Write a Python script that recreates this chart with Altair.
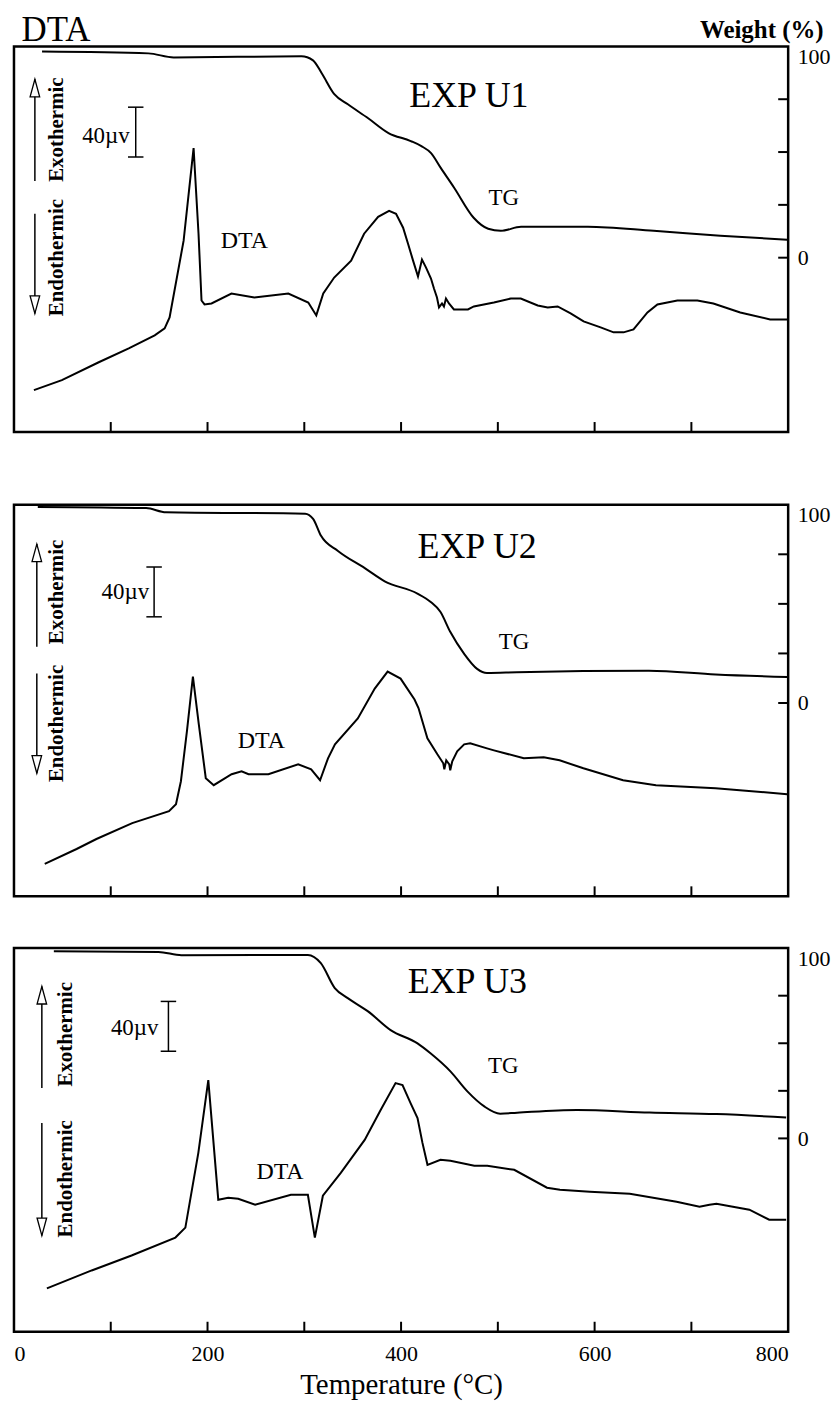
import altair as alt
import pandas as pd

FONT = "Liberation Serif"
W = 777

# ---------------- data ----------------
# Panel EXP U1
tg1_t = [29, 139, 165, 297, 309, 318, 331, 345, 366, 387, 410, 421, 431, 441, 455, 475, 490, 503, 524, 593, 661, 730, 799]
tg1_w = [97.6, 96.7, 94.8, 95.3, 93.4, 87.3, 77.4, 72.6, 66.0, 59.0, 55.2, 52.8, 49.5, 42.5, 33.0, 18.9, 13.7, 12.7, 14.6, 14.6, 12.7, 10.4, 8.5]
dta1_t = [20.6, 49.5, 87.6, 118.6, 145.4, 155.7, 160.8, 175.3, 185.6, 190.7, 193.8, 196.9, 204.1, 224.7, 248.4, 283.5,
          304.1, 312.4, 319.6, 330.9, 348.4, 361.8, 376.3, 387.6, 394.8, 402.1, 407.2, 412.4, 417.5, 421.6, 425.8, 430.9,
          434.0, 437.1, 439.2, 442.3, 444.3, 446.4, 449.5, 454.6, 469.1, 475.2, 495.9, 513.4, 523.7, 541.2, 551.5, 561.8,
          575.2, 588.6, 606.2, 619.6, 629.9, 640.2, 654.6, 664.9, 685.5, 706.2, 722.7, 750.5, 781.4, 799.0]
dta1_v = [33.6, 41.6, 56.0, 67.2, 77.6, 83.2, 92.0, 153.6, 228.0, 159.2, 105.6, 102.4, 103.2, 111.2, 108.0, 111.2,
          104.0, 93.6, 111.2, 124.0, 137.6, 159.2, 172.8, 177.6, 175.2, 164.0, 151.2, 137.6, 124.8, 138.4, 132.0, 123.2,
          115.2, 108.0, 100.0, 103.2, 100.8, 107.2, 103.2, 98.4, 98.4, 100.8, 104.0, 107.2, 107.2, 101.6, 100.0, 100.8,
          95.2, 88.8, 84.0, 80.0, 80.0, 82.4, 96.0, 102.4, 105.6, 105.6, 103.2, 96.0, 90.4, 90.4]

# Panel EXP U2
tg2_t = [24.6, 136.6, 157.1, 300.9, 309.1, 317.3, 334.8, 362.5, 383.1, 416.9, 430.3, 440.6, 450.8, 465.2, 478.6, 488.8, 519.6, 588.4, 656.2, 725.0, 799.0]
tg2_w = [98.9, 98.3, 96.2, 95.5, 92.9, 84.3, 76.7, 68.0, 61.4, 55.2, 51.1, 46.0, 35.9, 24.8, 17.2, 15.1, 15.5, 16.1, 16.3, 14.4, 13.1]
dta2_t = [31.8, 64.7, 85.2, 122.2, 160.2, 167.4, 172.5, 178.7, 184.9, 191.0, 198.2, 206.4, 224.9, 235.2, 242.4, 262.9,
          293.7, 307.1, 316.3, 324.5, 331.7, 355.3, 372.8, 386.1, 399.5, 413.9, 418.0, 427.2, 437.5, 443.6, 444.7, 446.7,
          449.8, 450.8, 452.9, 458.0, 465.2, 471.4, 488.8, 496.0, 526.8, 547.4, 563.8, 588.4, 629.4, 663.4, 725.0, 799.0]
dta2_v = [26.0, 38.0, 46.0, 58.8, 68.4, 74.0, 92.4, 132.4, 176.4, 138.0, 94.8, 89.2, 98.0, 100.4, 98.0, 98.0,
          106.0, 102.0, 93.2, 110.8, 122.0, 142.8, 166.8, 180.4, 174.8, 158.0, 151.2, 126.8, 114.0, 106.8, 102.0, 109.2,
          106.0, 101.2, 108.4, 116.4, 122.0, 122.8, 118.8, 117.2, 110.8, 111.6, 109.2, 102.8, 93.2, 89.2, 86.8, 82.0]

# Panel EXP U3
tg3_t = [41.2, 149.3, 173.0, 303.7, 317.1, 331.5, 344.9, 365.5, 389.2, 417.0, 430.4, 451.0, 468.5, 486.0, 502.4, 519.9, 581.7, 656.9, 725.9, 797.9]
tg3_w = [98.3, 98.0, 96.3, 96.4, 92.1, 79.0, 73.7, 66.9, 56.9, 49.9, 44.7, 35.2, 24.7, 16.8, 13.0, 13.5, 14.9, 13.6, 12.8, 11.0]
dta3_t = [34.0, 80.3, 121.5, 166.8, 177.1, 190.5, 200.8, 211.1, 221.4, 231.7, 249.2, 286.2, 303.7, 310.9, 319.2, 337.7,
          362.4, 378.9, 394.3, 401.5, 409.8, 417.0, 422.1, 427.3, 440.7, 451.0, 475.7, 489.1, 516.9, 550.8, 564.2, 595.1,
          636.3, 684.7, 708.4, 718.7, 725.9, 759.9, 780.4, 797.9]
dta3_v = [34.8, 49.2, 61.2, 75.6, 83.6, 143.6, 202.0, 106.0, 107.6, 106.8, 102.0, 110.0, 110.0, 75.6, 109.2, 127.6,
          154.0, 178.0, 199.6, 198.0, 183.6, 171.6, 151.6, 134.0, 138.0, 137.2, 133.2, 133.2, 130.0, 115.6, 114.0, 112.4,
          110.8, 104.4, 100.4, 102.0, 102.8, 98.0, 90.0, 90.0]

x_tick_values = [100, 200, 300, 400, 500, 600, 700]
x_label_values = [0, 200, 400, 600, 800]
w_tick_values = [0, 25, 50, 75]
w_label_values = [0, 100]

# annotation placement (data units: degC, microvolt)
ann1 = dict(exp="EXP  U1", exp_xy=(470.1, 269.6), tg_xy=(506.2, 188.0), dta_xy=(238.1, 153.6),
            bar=(125.8, 220.8, 260.8), lab40=(119.6, 237.6), arr_t=21.6, up=(201.6, 283.2), down=(175.2, 95.2),
            exo=(44.3, 242.8), endo=(44.3, 140.0))
ann2 = dict(exp="EXP U2", exp_xy=(478.6, 280.4), tg_xy=(516.6, 204.4), dta_xy=(255.7, 124.4),
            bar=(144.8, 224.4, 264.4), lab40=(139.7, 244.4), arr_t=23.6, up=(200.4, 282.8), down=(178.8, 98.8),
            exo=(44.2, 244.4), endo=(44.2, 138.8))
ann3 = dict(exp="EXP U3", exp_xy=(468.5, 280.4), tg_xy=(505.5, 213.2), dta_xy=(274.9, 128.4),
            bar=(159.6, 225.2, 265.2), lab40=(149.3, 243.6), arr_t=28.8, up=(195.6, 277.2), down=(167.6, 77.2),
            exo=(53.5, 238.8), endo=(53.5, 122.8))

UP_HEAD = "M0,0L0.6,2.2L-0.6,2.2Z"
DOWN_HEAD = "M0,0L0.6,-2.2L-0.6,-2.2Z"


def panel(tg_t, tg_w, dta_t, dta_v, H, wdom, ann, first=False, last=False):
    vdom = [0, round(H * 0.8, 1)]
    xs = alt.Scale(domain=[0, 800], nice=False, zero=False)
    ysw = alt.Scale(domain=wdom, nice=False, zero=False)
    ysv = alt.Scale(domain=vdom, nice=False, zero=False)
    if last:
        xaxis = alt.Axis(values=x_label_values, tickSize=0, domain=False, grid=False, labelFlush=True,
                         labelFont=FONT, labelFontSize=22, labelColor="black", labelPadding=12,
                         title="Temperature (°C)", titleFont=FONT, titleFontSize=29, titleFontWeight="normal",
                         titleColor="black", titlePadding=6)
    else:
        xaxis = None

    def X(field):
        return alt.X(field, type="quantitative", scale=xs, axis=xaxis)

    def YV(field):
        return alt.Y(field, type="quantitative", scale=ysv, axis=None)

    common_w = dict(values=w_label_values, orient="right", tickSize=0, domain=False, grid=False,
                    labelFlush=True, labelFont=FONT, labelFontSize=22, labelColor="black", labelPadding=9)
    if first:
        waxis = alt.Axis(title="Weight (%)", titleAngle=0, titleX=-27, titleY=-17, titleAlign="center",
                         titleBaseline="middle", titleFont=FONT, titleFontSize=25, titleFontWeight="bold",
                         titleColor="black", **common_w)
        vaxis = alt.Axis(orient="left", title="DTA", titleAngle=0, titleX=7, titleY=-17, titleAlign="left",
                         titleBaseline="middle", titleFont=FONT, titleFontSize=35, titleFontWeight="normal",
                         titleColor="black", labels=False, ticks=False, domain=False, grid=False,
                         minExtent=0, maxExtent=0, titlePadding=0)
    else:
        waxis = alt.Axis(title=None, **common_w)
        vaxis = None

    tg = alt.Chart(pd.DataFrame({"t": tg_t, "w": tg_w})).mark_line(
        color="black", strokeWidth=2, interpolate="monotone").encode(
        x=X("t"), y=alt.Y("w:Q", scale=ysw, axis=waxis))
    dta = alt.Chart(pd.DataFrame({"t": dta_t, "v": dta_v})).mark_line(
        color="black", strokeWidth=2).encode(x=X("t"), y=alt.Y("v:Q", scale=ysv, axis=vaxis))

    xt = alt.Chart(pd.DataFrame({"t": x_tick_values})).mark_rule(color="black", strokeWidth=2).encode(
        x=X("t"), y=alt.value(H - 10), y2=alt.value(H))
    wt = alt.Chart(pd.DataFrame({"w": w_tick_values})).mark_rule(color="black", strokeWidth=2).encode(
        y=alt.Y("w:Q", scale=ysw, axis=None), x=alt.value(W - 10), x2=alt.value(W))

    bx, lo, hi = ann["bar"]
    bar = alt.Chart(pd.DataFrame({"t": [bx], "lo": [lo], "hi": [hi]})).mark_rule(
        color="black", strokeWidth=1.5).encode(x=X("t"), y=YV("lo"), y2="hi:Q")
    caps = alt.Chart(pd.DataFrame({"t1": [bx - 8, bx - 8], "t2": [bx + 8, bx + 8], "v": [lo, hi]})).mark_rule(
        color="black", strokeWidth=1.5).encode(x=X("t1"), x2="t2:Q", y=YV("v"))

    def text_layer(label, xy, size, align="center", weight="normal", angle=0):
        return alt.Chart(pd.DataFrame({"t": [xy[0]], "v": [xy[1]], "s": [label]})).mark_text(
            font=FONT, fontSize=size, color="black", align=align, baseline="middle",
            fontWeight=weight, angle=angle).encode(x=X("t"), y=YV("v"), text="s:N")

    exp = text_layer(ann["exp"], ann["exp_xy"], 36)
    tgl = text_layer("TG", ann["tg_xy"], 23)
    dtal = text_layer("DTA", ann["dta_xy"], 24)
    l40 = text_layer("40µv", ann["lab40"], 23, align="right")
    exo = text_layer("Exothermic", ann["exo"], 21, weight="bold", angle=270)
    endo = text_layer("Endothermic", ann["endo"], 21, weight="bold", angle=270)

    at = ann["arr_t"]
    shafts = alt.Chart(pd.DataFrame({"t": [at, at], "v1": [ann["up"][0], ann["down"][0]],
                                     "v2": [ann["up"][1], ann["down"][1]]})).mark_rule(
        color="black", strokeWidth=1.5).encode(x=X("t"), y=YV("v1"), y2="v2:Q")
    uph = alt.Chart(pd.DataFrame({"t": [at], "v": [ann["up"][1]]})).mark_point(
        shape=UP_HEAD, size=256, filled=True, fill="white", stroke="black", strokeWidth=1.3, opacity=1).encode(
        x=X("t"), y=YV("v"))
    dnh = alt.Chart(pd.DataFrame({"t": [at], "v": [ann["down"][1]]})).mark_point(
        shape=DOWN_HEAD, size=256, filled=True, fill="white", stroke="black", strokeWidth=1.3, opacity=1).encode(
        x=X("t"), y=YV("v"))

    return alt.layer(tg, dta, xt, wt, bar, caps, exp, tgl, dtal, l40, exo, endo, shafts, uph, dnh).resolve_scale(
        y="independent").properties(width=W, height=H)


p1 = panel(tg1_t, tg1_w, dta1_t, dta1_v, 387, [-82.5, 100], ann1, first=True)
p2 = panel(tg2_t, tg2_w, dta2_t, dta2_v, 393, [-97.5, 100], ann2)
p3 = panel(tg3_t, tg3_w, dta3_t, dta3_v, 385, [-101.6, 100], ann3, last=True)

top = alt.vconcat(p1, p2, spacing=66)
chart = alt.vconcat(top, p3, spacing=46).properties(
    padding={"left": 4, "top": 0, "right": 0, "bottom": 0},
).configure_view(stroke="black", strokeWidth=2.5)

chart.save("out.html", embed_options={"renderer": "svg", "actions": False})
